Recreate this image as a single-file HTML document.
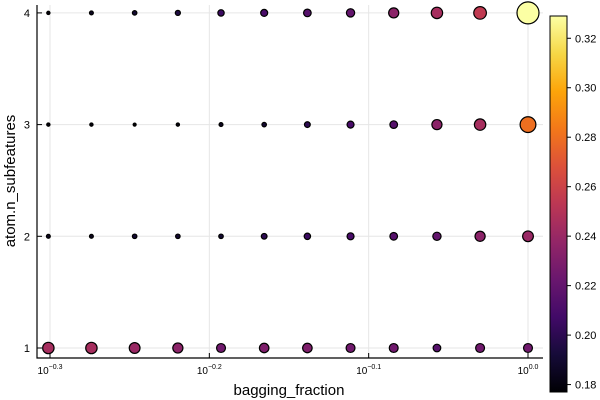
<!DOCTYPE html>
<html><head><meta charset="utf-8"><style>
body{margin:0;background:#fff}
svg{display:block;font-family:"Liberation Sans","DejaVu Sans",sans-serif}
</style></head><body>
<svg id="c" width="600" height="400">
<defs><linearGradient id="inf" x1="0" y1="1" x2="0" y2="0">
<stop offset="0" stop-color="#000004"/><stop offset="0.1" stop-color="#160b39"/><stop offset="0.2" stop-color="#420a68"/><stop offset="0.3" stop-color="#6a176e"/><stop offset="0.4" stop-color="#932667"/><stop offset="0.5" stop-color="#bc3754"/><stop offset="0.6" stop-color="#dd513a"/><stop offset="0.7" stop-color="#f37819"/><stop offset="0.8" stop-color="#fca50a"/><stop offset="0.9" stop-color="#f6d746"/><stop offset="1" stop-color="#fcffa4"/>
</linearGradient></defs>
<g id="grid"></g><g id="pts"></g><g id="axes"></g>
</svg>
<script>
const xVals=[0.5,0.5321,0.5664,0.6029,0.6417,0.6830,0.7270,0.7738,0.8236,0.8767,0.9331,1.0];
const yCats=[1,2,3,4];
const row1=[0.245,0.245,0.24,0.235,0.225,0.23,0.23,0.225,0.225,0.215,0.225,0.225];
const row2=[0.185,0.185,0.19,0.19,0.19,0.2,0.205,0.21,0.215,0.22,0.235,0.24];
const row3=[0.18,0.18,0.178,0.18,0.185,0.19,0.2,0.21,0.215,0.235,0.245,0.28];
const row4=[0.18,0.185,0.19,0.195,0.205,0.21,0.215,0.22,0.235,0.245,0.255,0.33];
const xTickExp=[-0.3,-0.2,-0.1,0.0];
const xTickLabels=["−0.3","−0.2","−0.1","0.0"];
const cTicks=[0.18,0.20,0.22,0.24,0.26,0.28,0.30,0.32];
const cMin=0.177,cMax=0.329;
const NS="http://www.w3.org/2000/svg";
const xs=e=>50+(e+0.3)/0.3*478;
const xPos=v=>xs(Math.log10(v));
const yPos=v=>348-(v-1)*111.7;
const cY=v=>392-(v-cMin)/(cMax-cMin)*376;
const stops=["#000004","#160b39","#420a68","#6a176e","#932667","#bc3754","#dd513a","#f37819","#fca50a","#f6d746","#fcffa4"];
function hex(h){return [1,3,5].map(i=>parseInt(h.substr(i,2),16));}
function cmap(v){let t=Math.max(0,Math.min(1,(v-cMin)/(cMax-cMin)))*10;let i=Math.min(9,Math.floor(t)),f=t-i;let a=hex(stops[i]),b=hex(stops[i+1]);return "rgb("+a.map((x,k)=>Math.round(x+(b[k]-x)*f)).join(",")+")";}
function mk(tag,attrs,parent,text){const e=document.createElementNS(NS,tag);for(const k in attrs)e.setAttribute(k,attrs[k]);if(text!==undefined)e.textContent=text;parent.appendChild(e);return e;}
const grid=document.getElementById('grid'),pts=document.getElementById('pts'),axes=document.getElementById('axes');
xTickExp.forEach((e,i)=>{const g=mk('line',{x1:xs(e),x2:xs(e),y1:5,y2:358,stroke:'#e6e6e6'},grid);


const t=mk('text',{x:xs(e),y:374,'font-size':10,'text-anchor':'middle',fill:'#000'},axes);


t.innerHTML='10<tspan dy="-5" font-size="7">'+xTickLabels[i]+'</tspan>';
const tk=mk('line',{x1:xs(e),x2:xs(e),y1:358,y2:353,stroke:'#000'},axes);

});
yCats.forEach(v=>{const g=mk('line',{x1:37,x2:543,y1:yPos(v),y2:yPos(v),stroke:'#e6e6e6'},grid);


const t=mk('text',{x:30,y:yPos(v)+4,'font-size':11,'text-anchor':'end'},axes,String(v));


const tk=mk('line',{x1:37,x2:42,y1:yPos(v),y2:yPos(v),stroke:'#000'},axes);

});
[row1,row2,row3,row4].forEach((row,ri)=>{row.forEach((v,i)=>{
const c=mk('circle',{cx:xPos(xVals[i]),cy:yPos(yCats[ri]),r:(1.5+(v-0.178)*62.5).toFixed(2),fill:cmap(v),stroke:'#000','stroke-width':1.2},pts);

});});
let a=mk('path',{d:'M37,5V358H543',fill:'none',stroke:'#000','stroke-width':1.2},axes);


let xl=mk('text',{x:289,y:395,'font-size':15,'text-anchor':'middle'},axes,'bagging_fraction');


let yl=mk('text',{x:15,y:181,'font-size':15,'text-anchor':'middle',transform:'rotate(-90 15 181)'},axes,'atom.n_subfeatures');


let cb=mk('rect',{x:550,y:16,width:17,height:376,fill:'url(#inf)',stroke:'#000','stroke-width':1},axes);


cTicks.forEach(v=>{const tk=mk('line',{x1:567,x2:571,y1:cY(v),y2:cY(v),stroke:'#000'},axes);


const t=mk('text',{x:575,y:cY(v)+4,'font-size':11},axes,v.toFixed(2));

});
</script>
</body></html>
